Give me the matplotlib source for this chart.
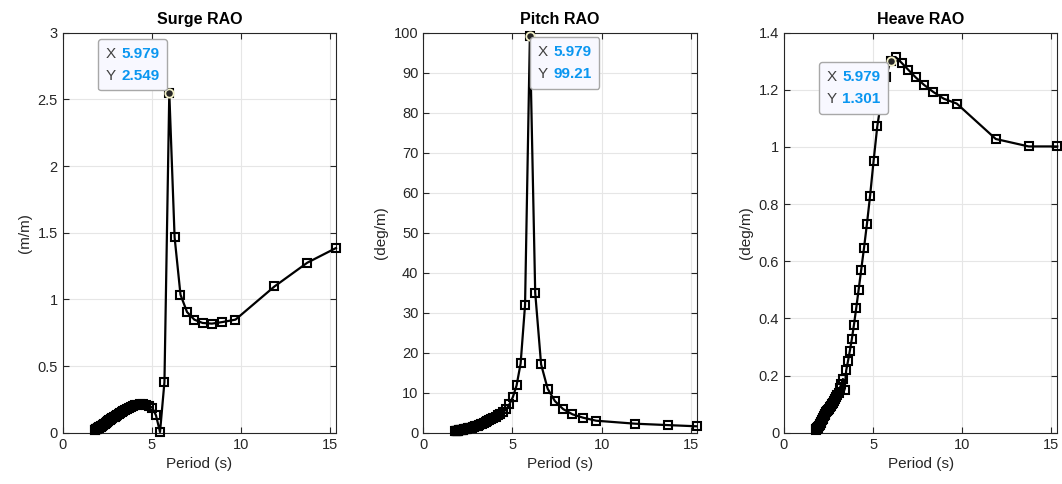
import matplotlib
matplotlib.use("Agg")
import matplotlib.pyplot as plt
from matplotlib.ticker import FuncFormatter
from matplotlib.offsetbox import TextArea, HPacker, VPacker, AnnotationBbox

plt.rcParams['font.family'] = ['Liberation Sans', 'DejaVu Sans']

# wave period (s)
period = [1.795, 1.821, 1.847, 1.875, 1.903, 1.933, 1.963, 1.994, 2.026, 2.059,
          2.094, 2.129, 2.166, 2.204, 2.243, 2.284, 2.326, 2.370, 2.416, 2.463,
          2.512, 2.564, 2.617, 2.673, 2.731, 2.791, 2.855, 2.921, 2.991, 3.063,
          3.140, 3.220, 3.305, 3.394, 3.489, 3.588, 3.694, 3.806, 3.925, 4.051,
          4.186, 4.330, 4.485, 4.651, 4.830, 5.023, 5.232, 5.459, 5.707, 5.979,
          6.277, 6.607, 6.974, 7.383, 7.844, 8.366, 8.963, 9.690, 11.88, 13.72, 15.33]

surge = [0.020, 0.022, 0.024, 0.026, 0.028, 0.030, 0.032, 0.034, 0.037, 0.040,
         0.043, 0.046, 0.049, 0.052, 0.056, 0.060, 0.064, 0.068, 0.072, 0.077,
         0.082, 0.087, 0.092, 0.097, 0.103, 0.109, 0.115, 0.121, 0.128, 0.135,
         0.142, 0.149, 0.156, 0.163, 0.170, 0.177, 0.184, 0.191, 0.198, 0.204,
         0.209, 0.213, 0.214, 0.211, 0.203, 0.188, 0.130, 0.005, 0.380, 2.549,
         1.465, 1.035, 0.905, 0.848, 0.823, 0.818, 0.830, 0.848, 1.097, 1.275, 1.385]

pitch = [0.40, 0.42, 0.44, 0.46, 0.48, 0.50, 0.52, 0.55, 0.58, 0.61,
         0.64, 0.67, 0.70, 0.74, 0.78, 0.82, 0.86, 0.90, 0.95, 1.00,
         1.05, 1.10, 1.16, 1.22, 1.29, 1.37, 1.46, 1.56, 1.67, 1.79,
         1.92, 2.07, 2.23, 2.41, 2.61, 2.83, 3.07, 3.34, 3.64, 3.98,
         4.35, 4.75, 5.20, 5.80, 7.10, 8.90, 11.8, 17.3, 31.9, 99.21,
         35.0, 17.1, 11.0, 7.9, 5.9, 4.6, 3.75, 3.0, 2.25, 1.9, 1.6]

heave = [0.010, 0.012, 0.014, 0.016, 0.018, 0.021, 0.024, 0.027, 0.031, 0.035,
         0.039, 0.043, 0.047, 0.052, 0.057, 0.062, 0.066, 0.071, 0.075, 0.080,
         0.084, 0.089, 0.094, 0.099, 0.104, 0.110, 0.117, 0.124, 0.131, 0.139,
         0.158, 0.172, 0.188, 0.150, 0.218, 0.250, 0.287, 0.328, 0.378, 0.436,
         0.500, 0.570, 0.645, 0.730, 0.830, 0.950, 1.072, 1.165, 1.245, 1.301,
         1.314, 1.294, 1.270, 1.244, 1.218, 1.193, 1.169, 1.152, 1.028, 1.002, 1.002]

titles = ["Surge RAO", "Pitch RAO", "Heave RAO"]
ylabels = ["(m/m)", "(deg/m)", "(deg/m)"]
ylims = [(0, 3), (0, 100), (0, 1.4)]
ysteps = [0.5, 10, 0.2]
tip_x = 5.979
tip_labels = [("5.979", "2.549"), ("5.979", "99.21"), ("5.979", "1.301")]
# box alignment and pixel offset of each data tip relative to its point
tip_align = [((1, 0), (-10, 10)), ((0, 1), (8, -9)), ((1, 1), (-10, -9))]

axcol = '#262626'
blue = '#0a96f0'

fig = plt.figure(figsize=(10.62, 4.84), dpi=100)
lefts = [62.7 / 1062, 423.3 / 1062, 784 / 1062]

for i, series in enumerate([surge, pitch, heave]):
    ax = fig.add_axes([lefts[i], 0.106, 273.3 / 1062, 0.8264])
    ax.plot(period, series, color='black', lw=1.6, marker='s', ms=6,
            mfc='none', mec='black', mew=1.5, clip_on=False, zorder=3)
    k = period.index(tip_x)
    ax.plot(period[k], series[k], 'o', ms=6, mfc='#262626', mec='#f2f0c8',
            mew=1.3, zorder=5, clip_on=False)

    ax.set_xlim(0, max(period))
    ax.set_ylim(*ylims[i])
    ax.set_xticks([0, 5, 10, 15])
    n = int(round(ylims[i][1] / ysteps[i]))
    ax.set_yticks([j * ysteps[i] for j in range(n + 1)])
    ax.yaxis.set_major_formatter(FuncFormatter(lambda v, p: f"{v:g}"))
    ax.grid(True, color='#e6e6e6', lw=0.8, zorder=0)
    ax.set_axisbelow(True)
    ax.tick_params(direction='in', top=True, right=True, length=4,
                   width=0.8, colors=axcol, labelsize=10.5, labelcolor=axcol)
    for s in ax.spines.values():
        s.set_color(axcol)
        s.set_linewidth(0.8)
    ax.set_title(titles[i], fontsize=11.5, fontweight='bold', pad=6)
    ax.set_xlabel("Period (s)", fontsize=11, color=axcol)
    ax.set_ylabel(ylabels[i], fontsize=11, color=axcol)

    # data tip
    rows = []
    for name, val in zip(["X", "Y"], tip_labels[i]):
        rows.append(HPacker(children=[
            TextArea(name, textprops=dict(color='#404040', fontsize=11)),
            TextArea(val, textprops=dict(color=blue, fontsize=11,
                                         fontweight='bold'))], pad=0, sep=4))
    box = VPacker(children=rows, pad=0, sep=6, align='left')
    align, off = tip_align[i]
    ab = AnnotationBbox(box, (period[k], series[k]), xybox=off,
                        boxcoords='offset pixels', box_alignment=align,
                        frameon=True, pad=0.55, annotation_clip=False,
                        bboxprops=dict(boxstyle='round,pad=0.55,rounding_size=0.2',
                                       fc='#f8f8ff', ec='#a8a8a8', lw=1.0),
                        zorder=6)
    ax.add_artist(ab)

fig.savefig("out.png", dpi=100)
